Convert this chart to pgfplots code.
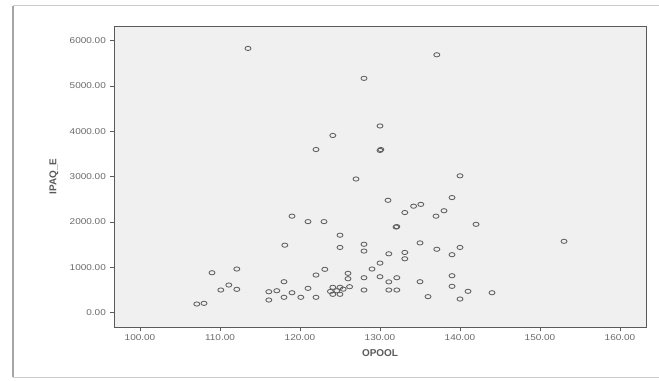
\documentclass[border=0pt]{standalone}
\usepackage{pgfplots}
\pgfplotsset{compat=1.18}
\usepackage{fontspec}
\setmainfont{Liberation Sans}
\definecolor{bggray}{HTML}{F0F0F0}
\definecolor{axgray}{HTML}{5A5A5A}
\definecolor{mkgray}{HTML}{5F5F5F}
\definecolor{txgray}{HTML}{6A6A6A}
\begin{document}
\begin{tikzpicture}[x=1bp,y=1bp]
\useasboundingbox (0,0) rectangle (659,380);
\fill[white] (0,0) rectangle (659,380);
\draw[gray!40, line width=1bp] (13,374) -- (659,374);
\draw[gray!40, line width=1bp] (13,3) -- (659,3);
\draw[gray!70, line width=1.5bp] (13,3) -- (13,374);
\begin{axis}[
  at={(114bp,53bp)}, anchor=south west,
  scale only axis, width=532bp, height=301bp,
  xmin=96.75, xmax=163.25, ymin=-315, ymax=6325,
  xtick={100,110,...,160}, ytick={0,1000,...,6000},
  xtick pos=left, ytick pos=left, tick align=outside,
  major tick length=4bp,
  minor tick num=0,
  axis background/.style={fill=bggray},
  axis line style={draw=axgray, line width=0.9bp},
  every tick/.style={draw=axgray, line width=0.6bp},
  /pgf/number format/.cd, fixed, fixed zerofill, precision=2, 1000 sep={}, assume math mode=true,
  /pgfplots/.cd,
  tick label style={font=\fontsize{8.5}{10}\selectfont, text=txgray, xscale=1.18},
  xlabel={OPOOL}, ylabel={IPAQ\_E},
  label style={font=\bfseries\fontsize{10}{12}\selectfont, text=axgray},
  xlabel style={yshift=-2bp},
  ylabel style={yshift=4bp},
]
\addplot[only marks, mark=o, mark size=2.5bp, mark options={draw=mkgray, line width=0.85bp, xscale=1.2, yscale=0.85}] coordinates {
(113.5,5830) (137.1,5690) (128.0,5170) (130.0,4120) (124.1,3910)
(122.0,3600) (130.1,3600) (130.0,3580) (127.0,2950) (140.0,3020)
(139.0,2540) (131.0,2480) (133.1,2210) (134.2,2350) (135.1,2390)
(137.0,2130) (138.0,2250) (142.0,1950) (132.1,1900) (132.0,1890)
(119.0,2130) (121.0,2010) (123.0,2010) (118.1,1490) (125.0,1710)
(125.0,1440) (128.0,1510) (128.0,1360) (131.1,1300) (133.1,1330)
(133.1,1190) (135.0,1540) (137.1,1400) (139.0,1280) (140.0,1440)
(153.0,1575) (130.0,1095) (129.0,964) (126.0,869) (126.0,750)
(128.0,772) (130.0,794) (131.1,680) (132.1,772) (135.0,684)
(139.0,816) (139.0,582) (141.0,472) (136.0,355) (140.0,302)
(144.0,441) (128.0,501) (131.1,501) (132.1,501) (126.2,574)
(123.1,957) (122.0,831) (121.0,538) (122.0,340) (120.1,340)
(119.0,441) (118.0,340) (118.0,684) (117.1,485) (116.1,463)
(116.1,280) (112.1,964) (109.0,882) (110.1,501) (111.1,611)
(112.1,516) (107.1,192) (108.0,207)
(124.1,560) (125.0,560) (124.1,406) (125.0,406) (124.6,485)
(125.4,520) (123.8,470)
};
\end{axis}
\end{tikzpicture}
\end{document}
